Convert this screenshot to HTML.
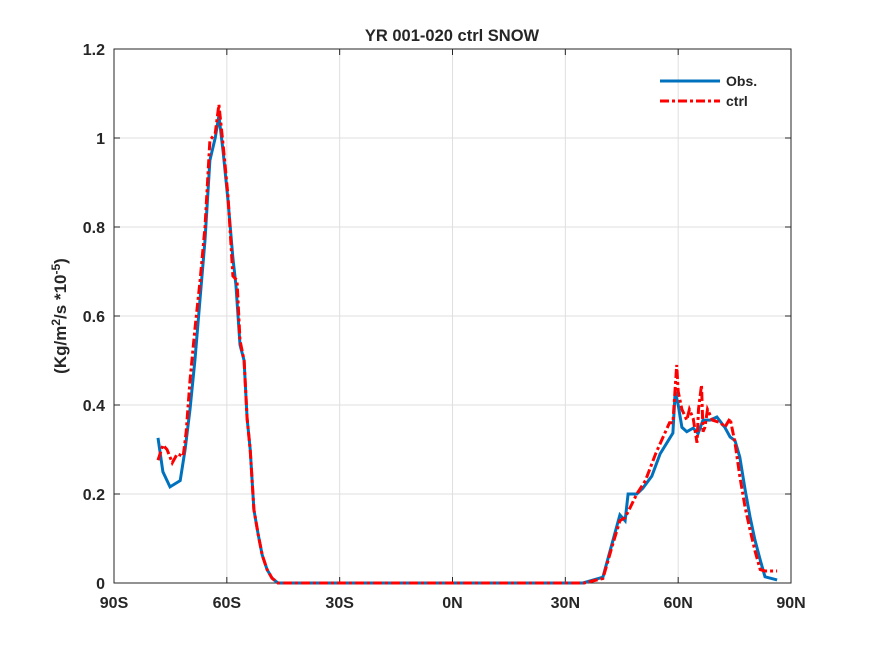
<!DOCTYPE html>
<html><head><meta charset="utf-8"><style>
body{margin:0;background:#fff;}
svg text{font-family:"Liberation Sans",sans-serif;font-weight:bold;fill:#262626;}
</style></head><body>
<svg width="875" height="656">
<rect width="875" height="656" fill="#fff"/>
<g id="grid"></g>
<g id="axes"></g>
<g id="series"></g>
<text x="452" y="41" font-size="16.5" text-anchor="middle">YR 001-020 ctrl SNOW</text>
<text transform="translate(66,316) rotate(-90)" font-size="17" text-anchor="middle">(Kg/m<tspan dy="-6" font-size="12">2</tspan><tspan dy="6">/s *10</tspan><tspan dy="-6" font-size="12">-5</tspan><tspan dy="6">)</tspan></text>
<g>
<line x1="660" y1="81" x2="720" y2="81" stroke="#0072bd" stroke-width="3"/>
<text x="726" y="86" font-size="14">Obs.</text>
<line x1="660" y1="101" x2="720" y2="101" stroke="#ff0000" stroke-width="3" stroke-dasharray="9,3,3,3"/>
<text x="726" y="106" font-size="14">ctrl</text>
</g>
</svg>
<script>
const xTicks=[-90,-60,-30,0,30,60,90];
const xTickLabels=["90S","60S","30S","0N","30N","60N","90N"];
const yTicks=[0,0.2,0.4,0.6,0.8,1,1.2];
const yTickLabels=["0","0.2","0.4","0.6","0.8","1","1.2"];
const obsLat=[-78.3,-77,-75.1,-72.4,-71.1,-69.8,-68.5,-67.1,-65.8,-64.5,-63.1,-62.1,-61,-59.7,-58.4,-57.6,-56.5,-55.4,-54.6,-53.8,-52.8,-51.7,-50.6,-49.3,-48,-46.4,-30,0,30,34.7,40,42.7,44.5,45.9,46.7,49,50.6,53,55.2,57,58.6,59.2,60,61,62.3,64,65.3,66.6,68.5,70.3,72.4,73.8,75.1,76.4,77.8,79.1,80.4,81.8,83.1,86.3];
const obsVal=[0.326,0.25,0.216,0.23,0.3,0.39,0.5,0.64,0.77,0.95,1.0,1.05,0.97,0.86,0.73,0.67,0.535,0.5,0.37,0.3,0.165,0.11,0.063,0.03,0.011,0,0,0,0,0,0.013,0.097,0.153,0.14,0.2,0.2,0.213,0.24,0.29,0.315,0.337,0.43,0.4,0.35,0.34,0.348,0.336,0.366,0.366,0.373,0.35,0.328,0.32,0.283,0.21,0.149,0.097,0.052,0.014,0.007];
const ctrlLat=[-78.3,-77,-75.9,-74.5,-73.2,-71.6,-70.8,-69.8,-68.5,-67.1,-65.8,-64.5,-63.1,-62.1,-61,-59.7,-58.4,-57.3,-56.5,-55.4,-54.6,-53.8,-52.8,-51.7,-50.6,-49.3,-48,-46.4,-30,0,30,35,40,42.7,44.5,45.9,46.7,49,51.3,54,56,57.7,58.6,59.6,60,61,62.3,63,64,65,65.4,66.2,66.6,67.1,67.8,69.1,71.3,72.4,73.8,75.1,76.4,77.8,79.1,80.4,81.8,83.1,86.3];
const ctrlVal=[0.276,0.31,0.3,0.27,0.29,0.285,0.34,0.455,0.57,0.68,0.8,0.995,1.01,1.075,0.985,0.87,0.69,0.68,0.545,0.5,0.37,0.3,0.165,0.11,0.063,0.03,0.011,0,0,0,0,0,0.01,0.09,0.14,0.147,0.16,0.2,0.23,0.29,0.328,0.36,0.36,0.49,0.43,0.39,0.366,0.39,0.37,0.315,0.39,0.445,0.34,0.35,0.39,0.366,0.36,0.35,0.37,0.315,0.24,0.17,0.12,0.073,0.03,0.027,0.027];
const L=114,R=791,T=49,B=583;
const xs=v=>L+(v+90)/180*(R-L);
const ys=v=>B-v/1.2*(B-T);
const NS="http://www.w3.org/2000/svg";
function mk(tag,attrs,parent){const e=document.createElementNS(NS,tag);for(const k in attrs)e.setAttribute(k,attrs[k]);parent.appendChild(e);return e;}
const grid=document.getElementById('grid'),axes=document.getElementById('axes'),series=document.getElementById('series');
xTicks.forEach((t,i)=>{
 const g=mk('line',{x1:xs(t),x2:xs(t),y1:T,y2:B,stroke:'#dfdfdf','stroke-width':1},grid);
 
 mk('line',{x1:xs(t),x2:xs(t),y1:B,y2:B-6,stroke:'#262626'},axes);
 mk('line',{x1:xs(t),x2:xs(t),y1:T,y2:T+6,stroke:'#262626'},axes);
 const tx=mk('text',{x:xs(t),y:B+25,'font-size':16,'text-anchor':'middle'},axes);tx.textContent=xTickLabels[i];
 
});
yTicks.forEach((t,i)=>{
 const g=mk('line',{x1:L,x2:R,y1:ys(t),y2:ys(t),stroke:'#dfdfdf','stroke-width':1},grid);
 
 mk('line',{x1:L,x2:L+6,y1:ys(t),y2:ys(t),stroke:'#262626'},axes);
 mk('line',{x1:R,x2:R-6,y1:ys(t),y2:ys(t),stroke:'#262626'},axes);
 const tx=mk('text',{x:L-9,y:ys(t)+6,'font-size':16,'text-anchor':'end'},axes);tx.textContent=yTickLabels[i];
 
});
mk('rect',{x:L,y:T,width:R-L,height:B-T,fill:'none',stroke:'#262626','stroke-width':1},axes);
const pts=(la,va)=>la.map((l,i)=>xs(l).toFixed(1)+','+ys(va[i]).toFixed(1)).join(' ');
const o=mk('polyline',{points:pts(obsLat,obsVal),fill:'none',stroke:'#0072bd','stroke-width':3},series);

const c=mk('polyline',{points:pts(ctrlLat,ctrlVal),fill:'none',stroke:'#ff0000','stroke-width':3,'stroke-dasharray':'9,3,3,3'},series);

</script>
</body></html>
